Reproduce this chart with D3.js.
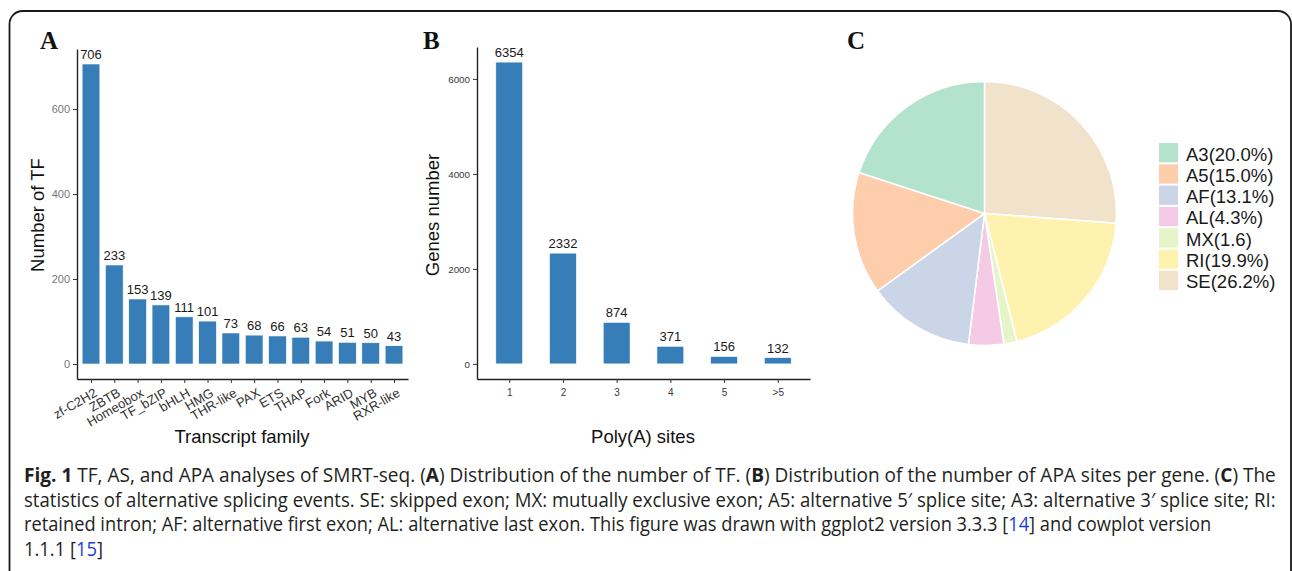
<!DOCTYPE html>
<html>
<head>
<meta charset="utf-8">
<script src="https://cdn.jsdelivr.net/npm/d3@7"></script>
<style>
  html, body { margin: 0; padding: 0; background: #fff; }
  svg { display: block; }
  .sans { font-family: "Liberation Sans", Arial, Helvetica, sans-serif; }
  .caption { font-family: "Open Sans", "Noto Sans", sans-serif; font-size: 20px; font-weight: 400; fill: #231f20; }
</style>
</head>
<body>
<svg id="fig" width="1292" height="571"></svg>
<script>
// ---- Panel A: transcription factor families ----
const tfFamilies = ["zf-C2H2", "ZBTB", "Homeobox", "TF_bZIP", "bHLH", "HMG", "THR-like",
                    "PAX", "ETS", "THAP", "Fork", "ARID", "MYB", "RXR-like"];
const tfCounts = [706, 233, 153, 139, 111, 101, 73, 68, 66, 63, 54, 51, 50, 43];
const tfTicks = [0, 200, 400, 600];

// ---- Panel B: poly(A) sites per gene ----
const polyASites = ["1", "2", "3", "4", "5", ">5"];
const polyAGenes = [6354, 2332, 874, 371, 156, 132];
const geneTicks = [0, 2000, 4000, 6000];

// ---- Panel C: alternative splicing events ----
const asEvents = ["A3", "A5", "AF", "AL", "MX", "RI", "SE"];
const asPercent = [20.0, 15.0, 13.1, 4.3, 1.6, 19.9, 26.2];
const asLegendLabels = ["A3(20.0%)", "A5(15.0%)", "AF(13.1%)", "AL(4.3%)", "MX(1.6)", "RI(19.9%)", "SE(26.2%)"];
const asColors = ["#B3E2CD", "#FDCDAC", "#CBD5E8", "#F4CAE4", "#E6F5C9", "#FFF2AE", "#F1E2CC"];

const barColor = "#377EB8";

const svg = d3.select("#fig");
svg.append("rect").attr("width", 1292).attr("height", 571).attr("fill", "#fff");

// outer frame
svg.append("rect")
  .attr("x", 9.5).attr("y", 11).attr("width", 1281.5).attr("height", 620)
  .attr("rx", 13).attr("fill", "none").attr("stroke", "#1a1a1a").attr("stroke-width", 1.8);

// panel tags
const tags = [["A", 40, 48.5], ["B", 423, 48.5], ["C", 847, 48.5]];
svg.selectAll("text.tag").data(tags).join("text")
  .attr("class", "tag")
  .attr("x", d => d[1]).attr("y", d => d[2])
  .attr("font-family", "'Liberation Serif', 'DejaVu Serif', serif")
  .attr("font-weight", "bold").attr("font-size", 25).attr("fill", "#111")
  .text(d => d[0]);

// helper that expands a domain by 5% like ggplot
function expand(maxV) { return [-0.05 * maxV, maxV * 1.05]; }

function barPanel(opts) {
  const g = svg.append("g").attr("class", "sans");
  const x = d3.scalePoint().domain(opts.cats).range([opts.x0, opts.x1]).padding(0.6);
  const y = d3.scaleLinear().domain(expand(d3.max(opts.vals))).range([opts.y0, opts.y1]);
  const bw = x.step() * opts.widthFrac;

  g.selectAll("rect.bar").data(opts.vals).join("rect")
    .attr("class", "bar")
    .attr("x", (d, i) => x(opts.cats[i]) - bw / 2)
    .attr("width", bw)
    .attr("y", d => y(d))
    .attr("height", d => y(0) - y(d))
    .attr("fill", barColor)
    .attr("stroke", "#ffffff").attr("stroke-width", 0.6);

  g.selectAll("text.val").data(opts.vals).join("text")
    .attr("class", "val")
    .attr("x", (d, i) => x(opts.cats[i]))
    .attr("y", d => y(d) - 5)
    .attr("text-anchor", "middle")
    .attr("font-size", 13).attr("fill", "#1a1a1a")
    .text(d => d);

  const yAxis = g.append("g").attr("transform", `translate(${opts.x0},0)`)
    .call(d3.axisLeft(y).tickValues(opts.ticks).tickFormat(d3.format("d"))
      .tickSize(4).tickSizeOuter(0).tickPadding(3));
  yAxis.select(".domain").attr("stroke", "#222").attr("stroke-width", 1.4);
  yAxis.selectAll(".tick line").attr("stroke", "#333").attr("stroke-width", 1);
  yAxis.selectAll(".tick text").attr("font-size", opts.yTickSize).attr("fill", opts.yTickColor)
    .attr("font-family", "'Liberation Sans', Arial, sans-serif");

  const xAxis = g.append("g").attr("transform", `translate(0,${opts.y0})`)
    .call(d3.axisBottom(x).tickSize(4).tickSizeOuter(0).tickPadding(4));
  xAxis.select(".domain").attr("stroke", "#222").attr("stroke-width", 1.4);
  xAxis.selectAll(".tick line").attr("stroke", "#333").attr("stroke-width", 1);
  xAxis.selectAll(".tick text").attr("font-family", "'Liberation Sans', Arial, sans-serif");
  return { g, x, y, xAxis };
}

// Panel A
const pA = barPanel({
  cats: tfFamilies, vals: tfCounts, ticks: tfTicks,
  x0: 77, x1: 408, y0: 379, y1: 49, widthFrac: 0.76,
  yTickSize: 11, yTickColor: "#777777"
});
pA.xAxis.selectAll(".tick text")
  .attr("font-size", 13).attr("fill", "#333333")
  .attr("y", 0).attr("dy", 0)
  .attr("text-anchor", "end")
  .attr("transform", "translate(6.5,16.5) rotate(-30)");
pA.g.append("text")
  .attr("transform", "translate(44,215) rotate(-90)")
  .attr("text-anchor", "middle").attr("font-size", 18.5).attr("fill", "#111")
  .text("Number of TF");
pA.g.append("text")
  .attr("x", 242).attr("y", 443)
  .attr("text-anchor", "middle").attr("font-size", 18.5).attr("fill", "#111")
  .text("Transcript family");

// Panel B
const pB = barPanel({
  cats: polyASites, vals: polyAGenes, ticks: geneTicks,
  x0: 477, x1: 810, y0: 379, y1: 47, widthFrac: 0.5,
  yTickSize: 9.8, yTickColor: "#3a3a3a"
});
pB.xAxis.selectAll(".tick text").attr("font-size", 10).attr("fill", "#3a3a3a").attr("dy", "0.9em");
pB.g.append("text")
  .attr("transform", "translate(439,215) rotate(-90)")
  .attr("text-anchor", "middle").attr("font-size", 18.5).attr("fill", "#111")
  .text("Genes number");
pB.g.append("text")
  .attr("x", 643).attr("y", 443)
  .attr("text-anchor", "middle").attr("font-size", 18.5).attr("fill", "#111")
  .text("Poly(A) sites");

// Panel C: pie, drawn clockwise from 12 o'clock in reverse category order
const pieData = asEvents.map((e, i) => ({ event: e, pct: asPercent[i], color: asColors[i] })).reverse();
const pie = d3.pie().sort(null).value(d => d.pct);
const arc = d3.arc().innerRadius(0).outerRadius(132);
const gC = svg.append("g").attr("transform", "translate(984.5,213.5)");
gC.selectAll("path").data(pie(pieData)).join("path")
  .attr("d", arc)
  .attr("fill", d => d.data.color)
  .attr("stroke", "#ffffff").attr("stroke-width", 1.6);

const leg = svg.append("g").attr("class", "sans");
leg.selectAll("rect").data(asEvents).join("rect")
  .attr("x", 1159).attr("y", (d, i) => 143 + i * 21.3)
  .attr("width", 19).attr("height", 19.3)
  .attr("fill", (d, i) => asColors[i]);
leg.selectAll("text").data(asLegendLabels).join("text")
  .attr("x", 1186).attr("y", (d, i) => 143 + i * 21.3 + 17.5)
  .attr("font-size", 18.5).attr("fill", "#1a1a1a")
  .text(d => d);

// Caption block, each line condensed to its set width
const captionLines = [
  { y: 481.5, width: 1253, parts: [
    { t: "Fig. 1", b: true }, { t: " TF, AS, and APA analyses of SMRT-seq. (" }, { t: "A", b: true },
    { t: ") Distribution of the number of TF. (" }, { t: "B", b: true },
    { t: ") Distribution of the number of APA sites per gene. (" }, { t: "C", b: true }, { t: ") The" }] },
  { y: 506.5, width: 1252, parts: [
    { t: "statistics of alternative splicing events. SE: skipped exon; MX: mutually exclusive exon; A5: alternative 5\u2032 splice site; A3: alternative 3\u2032 splice site; RI:" }] },
  { y: 531, width: 1188, parts: [
    { t: "retained intron; AF: alternative first exon; AL: alternative last exon. This figure was drawn with ggplot2 version 3.3.3 [" },
    { t: "14", link: true }, { t: "] and cowplot version" }] },
  { y: 556, width: 79, parts: [{ t: "1.1.1 [" }, { t: "15", link: true }, { t: "]" }] }
];
const cap = svg.append("g");
captionLines.forEach(line => {
  const txt = cap.append("text").attr("class", "caption").attr("x", 0).attr("y", 0);
  line.parts.forEach(p => {
    const ts = txt.append("tspan").text(p.t);
    if (p.b) ts.attr("font-weight", "bold");
    if (p.link) ts.attr("fill", "#1a3fd6");
  });
  const natural = txt.node().getComputedTextLength();
  const sx = line.width / natural;
  txt.attr("transform", `translate(24,${line.y}) scale(${sx},1)`);
});
</script>
</body>
</html>
